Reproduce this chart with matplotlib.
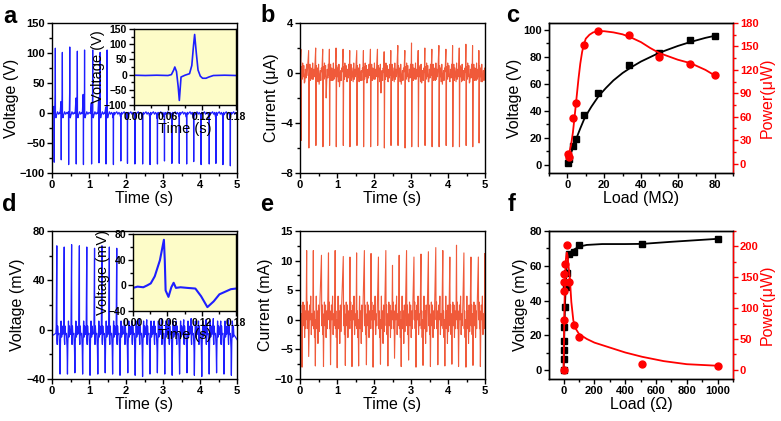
import matplotlib
matplotlib.use("Agg")
import matplotlib.pyplot as plt
from matplotlib.ticker import MultipleLocator, FormatStrFormatter

W, H = 781, 421
BLUE = "#1e1eff"
ORANGE = "#f05a3a"
RED = "#ff0000"
INSET_BG = "#fdfcc8"

# ---- panel a: open-circuit voltage (V), times of the negative spikes
a_times = [0.06, 0.25, 0.45, 0.655, 0.85, 1.07, 1.27, 1.46, 1.66, 1.86, 2.04, 2.24, 2.45,
           2.65, 2.85, 3.04, 3.24, 3.44, 3.64, 3.83, 4.03, 4.25, 4.43, 4.62, 4.82]
a_pre = [11, 19, 2, 25, 31, 17, 26, 10, -8, -6, -9, -5, -8, -7, -9, -6, -8, -5, -7, -9, -6, -8, -7, -5, -8]
a_neg = [-82, -78, -86, -85, -86, -85, -83, -85, -86, -80, -84, -85, -85, -86, -85, -80, -84, -84,
         -85, -81, -86, -85, -84, -86, -88]
a_pos = [108, 101, 110, 103, 105, 105, 101, 105, -3, -2, -3, -4, -2, -3, -3, -2, -4, -3, -2, -3,
         -3, -2, -4, -3, -2]
a_in_t = [0.0, 0.02, 0.04, 0.06, 0.066, 0.070, 0.072, 0.075, 0.078, 0.080, 0.083, 0.090, 0.098,
          0.102, 0.105, 0.107, 0.110, 0.113, 0.117, 0.121, 0.127, 0.132, 0.14, 0.16, 0.18]
a_in_v = [-2, -3, -2, -3, 0, 15, 25, 10, -40, -85, -8, -2, 3, 30, 95, 132, 70, 15, -5, -12, -12,
          -8, -3, -2, -3]

# ---- panel b: current (uA), times of the negative spikes
b_times = [0.03, 0.24, 0.43, 0.62, 0.80, 0.98, 1.17, 1.35, 1.54, 1.72, 1.91, 2.10, 2.28, 2.46,
           2.65, 2.84, 3.02, 3.20, 3.38, 3.57, 3.76, 3.95, 4.13, 4.31, 4.49, 4.67, 4.84]
b_pos = [1.9, 1.8, 2.0, 1.9, 1.9, 2.0, 1.9, 1.8, 1.8, 1.8, 1.9, 1.9, 1.7, 1.8, 2.2, 1.8, 2.4,
         1.8, 2.0, 1.9, 2.2, 1.9, 2.2, 2.0, 2.3, 2.2, 1.8]
b_neg = [-5.4, -6.0, -5.8, -5.9, -5.8, -5.9, -5.8, -5.9, -5.8, -5.9, -5.9, -5.8, -6.0, -5.8,
         -5.8, -6.0, -5.9, -5.9, -5.8, -5.9, -5.9, -5.8, -5.9, -5.9, -5.8, -5.9, -5.6]
b_dip = [-0.8, -0.5, -0.9, -2.0, -0.6, -1.1, -0.5, -0.7, -0.6, -0.8, -0.5, -1.6, -0.6, -0.7,
         -0.9, -0.6, -0.5, -0.8, -0.7, -0.6, -0.9, -0.5, -0.7, -0.6, -0.8, -0.6, -0.7]
b_mid = [[0.5, -0.5, 0.8, -0.3, 0.6, -0.7, 0.3, -0.4, 0.7, -0.2],
         [-0.3, 0.7, -0.6, 0.4, -0.2, 0.8, -0.5, 0.3, -0.3, 0.5],
         [0.6, -0.3, 0.4, -0.7, 0.7, -0.4, 0.2, -0.6, 0.4, 0.1]]

# ---- panel c: load curve (MOhm)
c_load = [0.1, 1.0, 3.0, 4.7, 9.1, 16.7, 33.3, 50.0, 66.7, 80.0]
c_volt = [1.5, 4, 14, 19, 37, 53, 74, 82.5, 92.5, 95.5]
c_power = [12, 9, 58, 77, 152, 170, 164, 136, 128, 113]
c_fit_v_x = [0, 0.5, 1.5, 3, 5, 7, 9, 11, 13, 17, 21, 25, 30, 35, 40, 50, 60, 67, 75, 80]
c_fit_v_y = [0, 2.5, 7, 12.5, 20, 27, 33.5, 38.5, 43, 51, 57, 62.5, 68, 72.5, 76.5, 83, 88,
             91, 94, 95.5]
c_fit_p_x = [0.1, 1, 2, 3, 4, 5, 6, 7, 8, 9, 10, 12, 14, 17, 20, 25, 30, 35, 40, 45, 50, 60,
             67, 75, 80]
c_fit_p_y = [8, 14, 24, 40, 62, 85, 108, 128, 143, 153, 160, 165, 168, 169.5, 169.5, 168,
             165.5, 161, 155.5, 148, 141.5, 133, 128.5, 120, 113]

# ---- panel d: voltage (mV), times of the positive spikes
d_times = [0.13, 0.33, 0.53, 0.74, 0.94, 1.15, 1.35, 1.55, 1.75, 1.96, 2.16, 2.36, 2.56, 2.76,
           2.96, 3.16, 3.36, 3.56, 3.76, 3.96, 4.16, 4.36, 4.56, 4.76]
d_pos = [68, 67, 69, 68, 67, 66, 68, 67, 66, 8, 7, 9, 8, 7, 9, 8, 7, 8, 9, 7, 8, 9, 7, 8]
d_neg = [-36, -36, -35, -36, -37, -36, -35, -36, -37, -35, -37, -38, -36, -35, -36, -37, -36,
         -35, -37, -38, -36, -35, -36, -37]
d_in_t = [0.0, 0.008, 0.018, 0.025, 0.031, 0.038, 0.047, 0.054, 0.0555, 0.057, 0.062, 0.067,
          0.071, 0.075, 0.083, 0.095, 0.109, 0.119, 0.13, 0.141, 0.151, 0.161, 0.171, 0.18]
d_in_v = [-4, -2, -3, 0, 3, 14, 39, 71, 40, -8, -18, -3, 4, -4, -3, -4, -5, -17, -34, -25,
          -14, -10, -6, -5]

# ---- panel e: current (mA), times of the positive spikes
e_times = [0.0, 0.18, 0.36, 0.58, 0.77, 0.95, 1.17, 1.35, 1.53, 1.74, 1.92, 2.12, 2.32, 2.50,
           2.68, 2.88, 3.08, 3.27, 3.47, 3.67, 3.86, 4.05, 4.23, 4.43, 4.62, 4.82, 4.99]
e_pos = [7.5, 11.7, 11.7, 10.9, 11.3, 11.7, 10.7, 10.6, 11.3, 11.7, 11.2, 10.6, 11.7, 9.2,
         10.9, 11.7, 10.6, 11.1, 11.5, 12.2, 11.7, 10.6, 12.6, 11.3, 10.6, 10.6, 11.2]
e_neg = [-8.0, -6.2, -7.8, -7.9, -7.6, -8.1, -7.7, -7.9, -7.8, -7.6, -8.0, -7.5, -7.8, -6.5,
         -7.9, -6.8, -8.0, -7.7, -7.9, -7.6, -7.8, -7.5, -7.9, -8.0, -7.7, -7.9, -7.6]
e_mid = [[-1, 2.5, -2.5, 1, -1.5, 3, -1, 2.5, -3, 1.5, -1.5, 2],
         [0, 3, -1.5, 1.5, -2.5, 2.5, 0, 4, -2.5, 1, -1, 1.5],
         [-1.5, 1.5, -3, 0, -1, 4, -1.5, 1.5, -4, 2.5, -2, 1]]

# ---- panel f: load curve (Ohm)
f_v_load = [0, 1, 2, 3, 5, 10, 15, 20, 33, 68, 100, 510, 1000]
f_volt = [0, 6.5, 11.8, 16.6, 24.8, 36.6, 48, 56, 67, 68.2, 72.2, 72.3, 75.5]
f_p_load = [0, 1, 2, 3, 5, 10, 20, 33, 68, 100, 510, 1000]
f_power = [0, 81, 127, 142, 155, 171, 203, 142, 73, 53, 10, 5.5]
f_fit_v_x = [0, 3, 6, 10, 15, 20, 30, 45, 70, 100, 150, 250, 400, 510, 700, 1000]
f_fit_v_y = [0, 15, 28, 40, 52, 60, 65.5, 68, 69.5, 71, 72, 72.5, 72.5, 72.6, 73.8, 75.5]
f_fit_p_x = [0, 3, 6, 10, 15, 20, 25, 30, 40, 50, 63, 80, 100, 150, 200, 300, 400, 510, 650,
             800, 1000]
f_fit_p_y = [0, 60, 110, 150, 180, 190, 186, 172, 150, 110, 80, 66, 58, 50, 44, 36, 28, 21,
             14, 9, 6.5]

plt.rcParams["font.family"] = ["Liberation Sans", "DejaVu Sans"]
plt.rcParams["font.weight"] = "bold"


def rect(l, r, t, b):
    return [l / W, 1 - b / H, (r - l) / W, (b - t) / H]


def stitch(times, offsets, rows, start, end):
    t, v = [start[0]], [start[1]]
    for ti, row in zip(times, rows):
        t.extend(ti + o for o in offsets)
        v.extend(row)
    t.append(end[0])
    v.append(end[1])
    return t, v


def style(ax, xlim, ylim, xmaj, xmin, ymaj, ymin, size=8):
    ax.set_xlim(*xlim)
    ax.set_ylim(*ylim)
    ax.xaxis.set_major_locator(MultipleLocator(xmaj))
    ax.xaxis.set_minor_locator(MultipleLocator(xmin))
    ax.yaxis.set_major_locator(MultipleLocator(ymaj))
    ax.yaxis.set_minor_locator(MultipleLocator(ymin))
    ax.tick_params(which="both", direction="out", width=1, labelsize=size, pad=1.5)
    ax.tick_params(which="major", length=3.5)
    ax.tick_params(which="minor", length=2)
    for s in ax.spines.values():
        s.set_linewidth(1.0)


def label(ax, xl, yl, size=11.5, xpad=1, ypad=1):
    ax.set_xlabel(xl, fontsize=size, fontweight="normal", labelpad=xpad)
    ax.set_ylabel(yl, fontsize=size, fontweight="normal", labelpad=ypad)


fig = plt.figure(figsize=(W / 100, H / 100), dpi=100)

# a
ax = fig.add_axes(rect(52, 237, 23, 173))
rows = []
for pre, neg, pos in zip(a_pre, a_neg, a_pos):
    big = pos > 50
    rows.append([-1, pre, -1, neg, -3, 1, 0.3 * pos, pos, -2, -8 if big else -1,
                 -4 if big else 0, 2, -2, 1])
t, v = stitch(a_times, [-0.03, -0.008, -0.004, 0.0, 0.004, 0.018, 0.026, 0.030, 0.034,
                        0.045, 0.06, 0.09, 0.12, 0.15], rows, (0, -2), (5, -1))
ax.plot(t, v, color=BLUE, lw=0.9)
style(ax, (0, 5), (-100, 150), 1, 0.5, 50, 25)
label(ax, "Time (s)", "Voltage (V)")

ins = fig.add_axes(rect(134, 236, 29, 105))
ins.set_facecolor(INSET_BG)
ins.plot(a_in_t, a_in_v, color=BLUE, lw=1.2)
style(ins, (0, 0.18), (-100, 150), 0.06, 0.03, 50, 25, size=7.5)
ins.xaxis.set_major_formatter(FormatStrFormatter("%.2f"))
label(ins, "Time (s)", "Voltage (V)", size=10.5, xpad=0, ypad=-1)

# b
ax = fig.add_axes(rect(300, 485, 23, 173))
rows = []
for i, (pos, neg, dip) in enumerate(zip(b_pos, b_neg, b_dip)):
    m = b_mid[i % 3]
    rows.append([pos, neg] + m[:5] + [dip] + m[5:])
t, v = stitch(b_times, [-0.006, 0, 0.012, 0.027, 0.042, 0.057, 0.072, 0.087, 0.102, 0.117,
                        0.132, 0.147, 0.162], rows, (0, 0.2), (5, -0.3))
ax.plot(t, v, color=ORANGE, lw=0.8)
style(ax, (0, 5), (-8, 4), 1, 0.5, 4, 2)
label(ax, "Time (s)", "Current (\u03bcA)")

# c
ax = fig.add_axes(rect(549, 733, 23, 173))
ax2 = ax.twinx()
ax.plot(c_fit_v_x, c_fit_v_y, color="k", lw=1.3)
ax.plot(c_load, c_volt, "s", color="k", ms=4.5)
ax2.plot(c_fit_p_x, c_fit_p_y, color=RED, lw=1.3)
ax2.plot(c_load, c_power, "o", color=RED, ms=5)
style(ax, (-10, 90), (-6, 105), 20, 10, 20, 10)
style(ax2, (-10, 90), (-12, 180), 20, 10, 30, 15)
ax.tick_params(which="both", right=False)
ax2.tick_params(which="both", colors=RED)
ax2.spines["right"].set_color(RED)
label(ax, "Load (M\u03a9)", "Voltage (V)")
ax2.set_ylabel("Power(\u03bcW)", fontsize=11.5, fontweight="normal", color=RED, labelpad=1)

# d
ax = fig.add_axes(rect(52, 237, 231, 379))
rows = []
for pos, neg in zip(d_pos, d_neg):
    rows.append([-3, 2, 0.45 * pos, pos, -8, -12, 3, -4, -3, -15, neg, -12, 7, -6, 3, -4])
t, v = stitch(d_times, [-0.025, -0.016, -0.008, 0.0, 0.004, 0.012, 0.022, 0.035, 0.06, 0.078,
                        0.088, 0.098, 0.115, 0.13, 0.142, 0.155], rows, (0, -5), (5, -8))
ax.plot(t, v, color=BLUE, lw=0.9)
style(ax, (0, 5), (-40, 80), 1, 0.5, 40, 20)
label(ax, "Time (s)", "Voltage (mV)")

ins = fig.add_axes(rect(133, 236, 234, 311))
ins.set_facecolor(INSET_BG)
ins.plot(d_in_t, d_in_v, color=BLUE, lw=1.5)
style(ins, (0, 0.18), (-40, 80), 0.06, 0.03, 40, 20, size=7.5)
ins.xaxis.set_major_formatter(FormatStrFormatter("%.2f"))
label(ins, "Time (s)", "Voltage (mV)", size=10.5, xpad=0, ypad=-1)

# e
ax = fig.add_axes(rect(300, 485, 231, 379))
rows = []
for i, (pos, neg) in enumerate(zip(e_pos, e_neg)):
    m = e_mid[i % 3]
    rows.append([pos] + m[:4] + [neg] + m[4:])
t, v = stitch(e_times, [0, 0.008, 0.02, 0.032, 0.042, 0.055, 0.065, 0.08, 0.095, 0.11, 0.125,
                        0.14, 0.155, 0.168], rows, (-0.01, 4), (5.2, 0))
ax.plot(t, v, color=ORANGE, lw=0.8)
style(ax, (0, 5), (-10, 15), 1, 0.5, 5, 2.5)
label(ax, "Time (s)", "Current (mA)")

# f
ax = fig.add_axes(rect(549, 733, 231, 379))
ax2 = ax.twinx()
ax.plot(f_fit_v_x, f_fit_v_y, color="k", lw=1.3)
ax.plot(f_v_load, f_volt, "s", color="k", ms=4.5)
ax2.plot(f_fit_p_x, f_fit_p_y, color=RED, lw=1.3)
ax2.plot(f_p_load, f_power, "o", color=RED, ms=5)
style(ax, (-95, 1100), (-5, 80), 200, 100, 20, 10)
style(ax2, (-95, 1100), (-15, 225), 200, 100, 50, 25)
ax.tick_params(which="both", right=False)
ax2.tick_params(which="both", colors=RED)
ax2.spines["right"].set_color(RED)
label(ax, "Load (\u03a9)", "Voltage (mV)")
ax2.set_ylabel("Power(\u03bcW)", fontsize=11.5, fontweight="normal", color=RED, labelpad=1)

for x, y, s in [(3, 23, "a"), (260, 22, "b"), (506, 22, "c"),
                (2, 211, "d"), (260, 211, "e"), (508, 211, "f")]:
    fig.text(x / W, 1 - y / H, s, fontsize=17, fontweight="bold", va="baseline")

fig.savefig("out.png", dpi=100)
